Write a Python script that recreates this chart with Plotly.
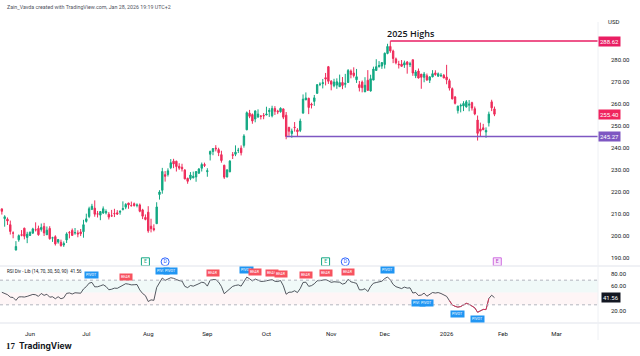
import numpy as np
import pandas as pd
import plotly.graph_objects as go

# ---------------- data (AAPL daily) ----------------
HOLIDAYS = ["2025-05-26", "2025-06-19", "2025-07-04", "2025-09-01", "2025-11-27",
            "2025-12-25", "2026-01-01", "2026-01-19", "2026-02-16"]
FIRST_DAY = "2025-05-16"
AXIS_END = "2026-03-31"

opens = [
    212.36, 207.91, 207.67, 205.17, 201.38, 193.67, 198.30, 200.59, 203.58, 199.37,
    200.28, 201.35, 202.91, 203.50, 203.00, 204.39, 200.60, 203.50, 199.08, 199.73,
    197.30, 197.20, 195.94, 198.24, 201.63, 202.59, 201.45, 201.43, 201.89, 202.01,
    206.67, 208.91, 212.15, 212.68, 210.10, 209.53, 210.51, 210.57, 209.93, 209.22,
    210.30, 210.57, 210.87, 212.10, 213.14, 215.00, 213.90, 214.70, 214.03, 214.18,
    211.90, 208.49,
    210.87, 204.51, 203.40, 205.63, 218.88, 220.83, 227.92, 228.01, 231.07, 234.06,
    234.00, 231.70, 231.28, 229.98, 226.27, 226.17, 226.48, 226.87, 228.61, 230.82, 232.51,
    229.25, 237.21, 238.45, 240.00, 239.30, 237.00, 232.19, 226.88, 229.22, 237.00,
    237.18, 238.97, 239.97, 241.23, 248.30, 255.88, 255.22, 253.21, 254.10, 254.56, 254.86,
    255.04, 256.58, 254.67, 257.99, 256.81, 256.52, 257.81, 254.94, 249.38, 246.60,
    249.49, 248.25, 248.02, 255.89, 261.88, 262.65, 259.94, 261.19, 264.88, 268.99,
    269.28, 271.99, 276.99,
    270.42, 268.33, 268.61, 267.89, 269.80, 268.96, 269.81, 275.00, 274.11, 271.05,
    268.82, 269.99, 265.53, 270.83, 265.95, 270.90, 275.27, 276.96, 277.26,
    278.01, 283.00, 286.20, 284.10, 280.54, 278.13, 278.16, 277.75, 279.10, 277.90,
    280.15, 272.82, 275.01, 273.61, 272.15, 272.86, 270.84, 272.34, 274.16, 272.69,
    272.81, 273.06,
    272.26, 270.64, 267.00, 263.20, 257.02, 259.08, 259.16, 258.72, 259.49, 260.65,
    257.90, 252.73, 248.70, 249.20, 247.32, 251.48, 261.00, 257.80,
]
highs = [
    212.57, 209.48, 208.47, 207.04, 202.14, 197.70, 200.74, 202.73, 203.81, 201.96,
    202.13, 203.77, 206.24, 204.75, 205.70, 206.00, 204.35, 204.50, 199.68, 200.37,
    198.69, 198.39, 197.57, 201.70, 202.30, 203.44, 203.67, 202.64, 203.22, 207.39,
    210.19, 213.34, 214.65, 216.23, 211.43, 211.33, 213.48, 212.13, 210.91, 211.89,
    212.40, 211.80, 211.79, 215.78, 214.95, 215.15, 215.69, 215.24, 214.85, 214.81,
    212.39, 209.84,
    213.58, 207.88, 205.34, 215.38, 220.85, 231.00, 229.56, 230.80, 235.00, 235.12,
    234.28, 233.12, 232.87, 230.47, 226.52, 229.09, 229.30, 229.49, 230.90, 233.41, 233.38,
    230.85, 238.85, 239.90, 241.32, 240.15, 238.78, 232.42, 230.45, 234.51, 238.19,
    241.22, 240.10, 241.20, 246.30, 256.64, 257.34, 255.74, 257.17, 257.60, 255.00, 255.92,
    258.79, 258.18, 259.24, 259.07, 257.40, 258.52, 258.00, 256.38, 249.69, 248.85,
    251.82, 249.04, 253.38, 264.38, 265.29, 262.85, 260.62, 264.13, 269.12, 269.89,
    271.41, 274.14, 277.32,
    270.85, 271.49, 271.70, 273.40, 272.29, 273.73, 275.91, 275.73, 276.70, 275.96,
    270.49, 270.71, 272.21, 275.43, 273.33, 277.00, 280.38, 279.53, 279.00,
    283.42, 287.40, 288.62, 284.73, 281.14, 279.67, 280.03, 279.75, 279.59, 279.22,
    280.15, 275.50, 276.16, 273.63, 274.60, 273.88, 272.50, 275.43, 275.37, 274.36,
    274.08, 273.68,
    277.84, 271.51, 267.55, 263.68, 259.29, 260.21, 261.30, 261.81, 261.82, 261.04,
    258.90, 254.79, 251.56, 251.00, 249.41, 256.56, 261.95, 258.86,
]
lows = [
    209.77, 204.26, 205.03, 200.71, 199.00, 193.46, 197.43, 199.90, 198.51, 196.78,
    200.12, 200.96, 202.10, 200.15, 202.05, 200.02, 200.57, 198.41, 197.36, 195.70,
    196.56, 195.21, 195.07, 196.86, 198.96, 200.20, 200.62, 199.46, 200.00, 199.26,
    206.14, 208.14, 211.81, 208.80, 208.45, 207.22, 210.03, 209.86, 207.54, 208.92,
    208.64, 209.59, 209.70, 211.63, 212.23, 212.41, 213.53, 213.40, 213.06, 210.82,
    207.72, 207.16,
    201.50, 201.68, 202.16, 205.59, 216.58, 219.25, 224.76, 227.07, 230.43, 230.85,
    229.34, 230.11, 229.35, 225.77, 223.78, 225.41, 226.23, 224.69, 228.26, 229.34, 231.37,
    226.97, 234.36, 236.74, 238.49, 236.34, 233.36, 225.95, 226.65, 229.02, 235.03,
    236.32, 237.73, 236.65, 240.21, 248.12, 253.58, 251.04, 251.71, 253.78, 253.01, 253.11,
    254.93, 254.15, 253.95, 255.05, 255.43, 256.11, 253.14, 244.00, 245.56, 244.70,
    247.47, 245.13, 247.27, 255.63, 261.83, 255.43, 258.01, 259.18, 264.65, 268.15,
    267.11, 268.48, 269.16,
    266.25, 267.62, 266.93, 267.89, 266.77, 267.46, 269.80, 271.70, 272.09, 269.60,
    265.73, 265.32, 265.50, 265.92, 265.67, 270.90, 275.25, 276.63, 275.99,
    276.14, 282.63, 283.30, 278.59, 278.05, 276.15, 276.92, 276.44, 273.81, 276.82,
    272.84, 271.79, 271.64, 266.95, 269.90, 270.51, 269.56, 272.20, 272.86, 272.35,
    272.28, 271.75,
    269.00, 266.14, 262.12, 259.81, 255.70, 256.22, 256.80, 258.39, 256.71, 257.05,
    254.93, 243.42, 245.18, 248.15, 244.68, 249.80, 256.80, 254.51,
]
closes = [
    211.26, 208.78, 206.86, 202.09, 201.36, 195.27, 200.21, 200.42, 199.95, 200.85,
    201.70, 203.27, 202.82, 200.63, 203.92, 201.45, 202.67, 198.78, 199.20, 196.45,
    198.42, 195.64, 196.58, 201.00, 201.50, 200.30, 201.56, 201.00, 201.08, 205.17,
    207.82, 212.44, 213.55, 209.95, 210.01, 211.14, 212.41, 211.16, 208.62, 209.11,
    210.16, 210.02, 211.18, 212.48, 214.40, 214.15, 213.76, 213.88, 214.05, 211.27,
    209.05, 207.57,
    202.38, 203.35, 202.92, 213.25, 220.03, 229.35, 227.18, 229.65, 233.33, 232.78,
    231.59, 230.89, 230.56, 226.01, 224.90, 227.76, 227.16, 229.31, 230.49, 232.56, 232.14,
    229.72, 238.47, 239.78, 239.69, 237.88, 234.35, 226.79, 230.03, 234.07, 236.70,
    238.15, 238.99, 237.88, 245.50, 256.08, 254.43, 252.31, 256.87, 255.46, 254.43, 254.63,
    255.45, 257.13, 258.02, 256.69, 256.48, 258.06, 254.04, 245.27, 247.66, 247.77,
    249.34, 247.45, 252.29, 262.24, 262.77, 258.45, 259.58, 262.82, 268.81, 269.00,
    269.70, 271.40, 270.37,
    269.05, 270.04, 270.14, 269.77, 268.47, 269.43, 275.25, 273.47, 272.95, 272.41,
    267.46, 267.44, 268.56, 266.25, 271.49, 275.92, 276.97, 277.55, 278.85,
    283.10, 286.19, 284.15, 280.70, 278.78, 277.89, 277.18, 278.78, 278.03, 278.28,
    274.11, 274.61, 271.84, 272.19, 273.67, 270.97, 272.36, 273.81, 273.40, 273.76,
    273.08, 271.86,
    271.01, 267.26, 262.36, 260.33, 259.04, 259.37, 260.25, 261.05, 259.96, 258.21,
    255.53, 246.70, 247.65, 248.35, 248.04, 255.41, 258.27, 255.40,
]
# closes before the first visible bar (off-screen), only used to warm up the RSI
warmup_closes = [
    223.19, 223.89, 203.19, 188.38, 181.46, 172.42, 198.85, 190.42, 198.15, 202.52,
    202.14, 194.27, 196.98, 193.16, 199.74, 204.60, 208.37, 209.28, 210.14, 211.21,
    212.50, 213.32, 205.35, 198.89, 198.51, 196.25, 197.49, 198.53, 210.79, 212.93,
    212.33, 211.45,
]

month_labels = ["Jun", "Jul", "Aug", "Sep", "Oct", "Nov", "Dec", "2026", "Feb", "Mar"]
month_keys = ["2025-06", "2025-07", "2025-08", "2025-09", "2025-10", "2025-11",
              "2025-12", "2026-01", "2026-02", "2026-03"]
price_ticks = [190, 200, 210, 220, 230, 240, 250, 260, 270, 280]
rsi_ticks = [20, 60, 80]

high_level, high_level_date = 288.62, "2025-12-03"
low_level, low_level_date = 245.27, "2025-10-10"
last_price_text = "255.40"
rsi_value_text = "41.56"

earn_dates = ["2025-07-31", "2025-10-30"]
div_dates = ["2025-08-11", "2025-11-10"]
next_earn_date = "2026-01-29"

sig_dates = ["2025-07-03", "2025-07-22", "2025-08-08", "2025-08-13", "2025-09-04",
             "2025-09-22", "2025-09-25", "2025-10-03", "2025-10-08", "2025-10-21",
             "2025-10-30", "2025-11-11", "2025-12-02", "2025-12-17", "2025-12-22",
             "2026-01-08", "2026-01-20"]
sig_text = ["PIVOT", "BEAR", "PIVOT", "PIVOT", "BEAR", "PIVOT", "BEAR", "BEAR", "BEAR",
            "BEAR", "BEAR", "BEAR", "PIVOT", "PIVOT", "PIVOT", "PIVOT", "PIVOT"]
sig_below = [False, False, False, False, False, False, False, False, False, False,
             False, False, False, True, True, True, True]

# ---------------- derived ----------------
W, H = 640, 356
axis_days = pd.bdate_range(FIRST_DAY, AXIS_END, freq="C", holidays=HOLIDAYS)
n = len(closes)
assert len(opens) == len(highs) == len(lows) == n
day_keys = [d.strftime("%Y-%m-%d") for d in axis_days]
pos = {d: i for i, d in enumerate(day_keys)}
xs = np.arange(n)

month_pos = []
for mk in month_keys:
    month_pos.append(next(i for i, d in enumerate(day_keys) if d.startswith(mk)))


def wilder_rsi(values, period=14):
    v = np.asarray(values, float)
    d = np.diff(v)
    g = np.clip(d, 0, None)
    l = np.clip(-d, 0, None)
    ag, al = g[:period].mean(), l[:period].mean()
    out = [np.nan] * period + [100 - 100 / (1 + ag / al)]
    for i in range(period, len(d)):
        ag = (ag * (period - 1) + g[i]) / period
        al = (al * (period - 1) + l[i]) / period
        out.append(100.0 if al == 0 else 100 - 100 / (1 + ag / al))
    return np.array(out)


rsi = wilder_rsi(warmup_closes + closes)[len(warmup_closes):]

# pixel layout helpers
PX_BAR = 2.815
JUN_PX = 30
PLOT_R = 598
x0 = month_pos[0] - JUN_PX / PX_BAR
x1 = month_pos[0] + (PLOT_R - JUN_PX) / PX_BAR


def px(x):
    return x / W


def py(y):
    return 1 - y / H


GREEN = "#13A883"
RED = "#EE2C5A"
PINK = "#E91E63"
PURPLE = "#7E57C2"
TXT = "#131722"
FONT = "Roboto"

fig = go.Figure()

fig.add_trace(go.Candlestick(
    x=xs, open=opens, high=highs, low=lows, close=closes,
    increasing=dict(line=dict(color=GREEN, width=1), fillcolor=GREEN),
    decreasing=dict(line=dict(color=RED, width=1), fillcolor=RED),
    whiskerwidth=0, showlegend=False, xaxis="x", yaxis="y"))

# horizontal levels
fig.add_trace(go.Scatter(x=[pos[high_level_date], x1], y=[high_level, high_level],
                         mode="lines", line=dict(color=PINK, width=1.5),
                         showlegend=False, yaxis="y"))
fig.add_trace(go.Scatter(x=[pos[low_level_date], x1], y=[low_level, low_level],
                         mode="lines", line=dict(color=PURPLE, width=1.5),
                         showlegend=False, yaxis="y"))

# earnings / dividends markers
marker_y = 188.3
fig.add_trace(go.Scatter(
    x=[pos[d] for d in earn_dates], y=[marker_y] * len(earn_dates), mode="markers+text",
    marker=dict(symbol="square", size=8, color="white", line=dict(color=GREEN, width=1)),
    text=["E"] * len(earn_dates), textposition="middle center",
    textfont=dict(size=5, color=GREEN, family=FONT), showlegend=False, yaxis="y"))
fig.add_trace(go.Scatter(
    x=[pos[d] for d in div_dates], y=[marker_y] * len(div_dates), mode="markers+text",
    marker=dict(symbol="circle", size=8, color="white", line=dict(color="#2962FF", width=1)),
    text=["D"] * len(div_dates), textposition="middle center",
    textfont=dict(size=5, color="#2962FF", family=FONT), showlegend=False, yaxis="y"))
fig.add_trace(go.Scatter(
    x=[pos[next_earn_date]], y=[marker_y], mode="markers+text",
    marker=dict(symbol="square", size=8, color="#F8E5FB", line=dict(color="#CE6BE0", width=1)),
    text=["E"], textposition="middle center",
    textfont=dict(size=5, color="#B040C8", family=FONT), showlegend=False, yaxis="y"))

# RSI
fig.add_trace(go.Scatter(x=xs, y=rsi, mode="lines", line=dict(color="#2A2E39", width=0.8),
                         showlegend=False, yaxis="y2"))
low_mask = rsi < 30
ext = low_mask.copy()
ext[1:] |= low_mask[:-1]
ext[:-1] |= low_mask[1:]
fig.add_trace(go.Scatter(x=xs, y=np.where(ext, rsi, np.nan), mode="lines",
                         line=dict(color=RED, width=0.8), connectgaps=False,
                         showlegend=False, yaxis="y2"))

shapes = []
xr = px(PLOT_R)
shapes.append(dict(type="rect", xref="paper", yref="y2", x0=0, x1=xr, y0=50, y1=70,
                   fillcolor="rgba(8,153,129,0.06)", line=dict(width=0), layer="below"))
shapes.append(dict(type="rect", xref="paper", yref="y2", x0=0, x1=xr, y0=30, y1=50,
                   fillcolor="rgba(242,54,69,0.05)", line=dict(width=0), layer="below"))
for lv in (70, 30):
    shapes.append(dict(type="line", xref="paper", yref="y2", x0=0, x1=xr, y0=lv, y1=lv,
                       line=dict(color="#B2B5BE", width=1, dash="dot")))
for yy in (266, 323):
    shapes.append(dict(type="line", xref="paper", yref="paper", x0=0, x1=1,
                       y0=py(yy), y1=py(yy), line=dict(color="#E0E3EB", width=1)))
shapes.append(dict(type="line", xref="paper", yref="paper", x0=xr, x1=xr,
                   y0=py(340), y1=py(22), line=dict(color="#EEF0F4", width=1)))

ann = []
ann.append(dict(text="Zain_Vavda created with TradingView.com, Jan 28, 2026 19:19 UTC+2",
                x=px(5), y=py(7), xref="paper", yref="paper", xanchor="left",
                yanchor="middle", showarrow=False, font=dict(size=5.3, color="#50535E", family=FONT)))
ann.append(dict(text="<b>17</b>", x=px(4), y=py(346), xref="paper", yref="paper",
                xanchor="left", yanchor="middle", showarrow=False,
                font=dict(size=9, color=TXT, family="Arial Black")))
ann.append(dict(text="<b>TradingView</b>", x=px(17), y=py(346), xref="paper", yref="paper",
                xanchor="left", yanchor="middle", showarrow=False,
                font=dict(size=8.5, color=TXT, family="Inter")))
ann.append(dict(text="USD", x=px(621), y=py(16), xref="paper", yref="paper",
                showarrow=False, font=dict(size=6, color=TXT, family=FONT)))
ann.append(dict(text="2025 Highs", x=pos[high_level_date], y=high_level, xref="x", yref="y",
                xanchor="left", yanchor="bottom", xshift=-5, yshift=-1, showarrow=False,
                font=dict(size=9, color=TXT, family="Open Sans", weight=600)))
for val, txt, col in ((high_level, f"{high_level:.2f}", PINK),
                      (low_level, f"{low_level:.2f}", PURPLE),
                      (float(last_price_text), last_price_text, "#F0245E")):
    ann.append(dict(text=txt, x=px(621), y=val, xref="paper", yref="y", showarrow=False,
                    bgcolor=col, borderpad=1, font=dict(size=6, color="white", family=FONT)))
ann.append(dict(text=rsi_value_text, x=px(621), y=float(rsi_value_text), xref="paper",
                yref="y2", showarrow=False, bgcolor=TXT, borderpad=1,
                font=dict(size=6, color="white", family=FONT)))
ann.append(dict(text=f"RSI Div - Lib (14, 70, 30, 50, 90)  {rsi_value_text}",
                x=px(5), y=py(271), xref="paper", yref="paper", xanchor="left",
                yanchor="middle", showarrow=False, font=dict(size=4.5, color=TXT, family=FONT)))
for d, t, below in zip(sig_dates, sig_text, sig_below):
    k = pos[d]
    ann.append(dict(text=t, x=k, y=rsi[k], xref="x", yref="y2", showarrow=False,
                    yanchor="top" if below else "bottom", yshift=-3 if below else 3,
                    bgcolor="#2196F3" if t == "PIVOT" else "#F7525F", borderpad=1,
                    font=dict(size=3.6, color="white", family=FONT)))

fig.update_layout(
    width=W, height=H, margin=dict(l=0, r=0, t=0, b=0),
    paper_bgcolor="white", plot_bgcolor="white",
    showlegend=False, shapes=shapes, annotations=ann,
    font=dict(family=FONT, color=TXT),
    xaxis=dict(domain=[0, xr], anchor="y2", range=[x0, x1], tickvals=month_pos,
               ticktext=month_labels, tickfont=dict(size=6, color=TXT), showgrid=False,
               zeroline=False, showline=False, ticks="", ticklabelstandoff=6,
               rangeslider=dict(visible=False)),
    yaxis=dict(domain=[py(266), py(22)], anchor="x", side="right", range=[186.4, 297.3],
               tickvals=price_ticks, ticktext=[f"{v:.2f}" for v in price_ticks],
               tickfont=dict(size=6, color=TXT), showgrid=False, zeroline=False,
               ticks="", ticklabelstandoff=12),
    yaxis2=dict(domain=[py(323), py(266)], anchor="x", side="right", range=[0.5, 93.0],
                tickvals=rsi_ticks, ticktext=[f"{v:.2f}" for v in rsi_ticks],
                tickfont=dict(size=6, color=TXT), showgrid=False, zeroline=False,
                ticks="", ticklabelstandoff=12),
)

fig.write_html("out.html", config={"displayModeBar": False},
               post_script="document.body.style.margin='0px';"
                           "document.body.style.overflow='hidden';")
